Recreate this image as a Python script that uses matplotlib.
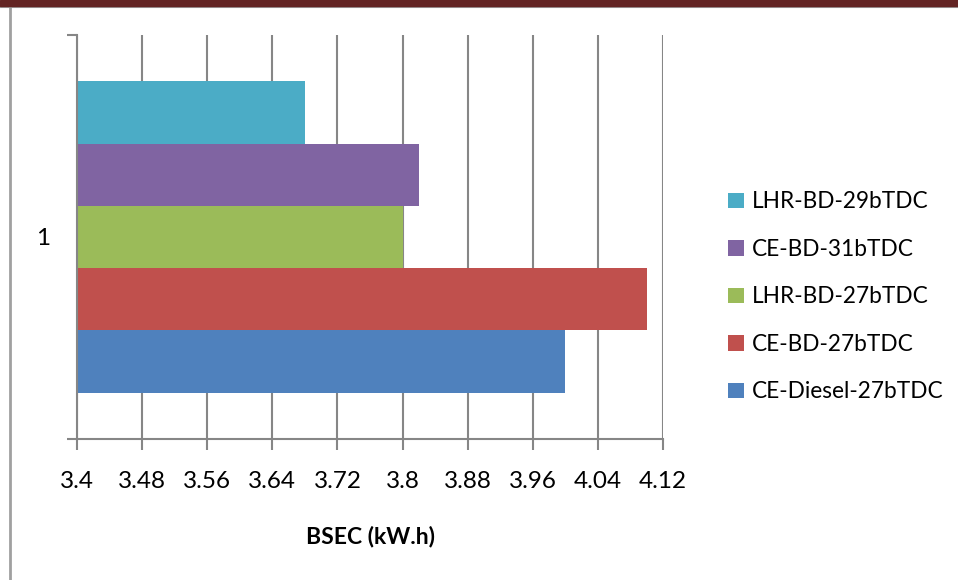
import numpy as np
import matplotlib.pyplot as plt
from matplotlib.lines import Line2D
from matplotlib.patches import Rectangle

plt.rcParams['font.family'] = ['Lato', 'DejaVu Sans']

category = ["1"]
series = ["CE-Diesel-27bTDC", "CE-BD-27bTDC", "LHR-BD-27bTDC", "CE-BD-31bTDC", "LHR-BD-29bTDC"]
bsec = [4.00, 4.10, 3.80, 3.82, 3.68]
colors = ["#4f81bd", "#c0504d", "#9bbb59", "#8064a2", "#4bacc6"]
xticks = [3.4, 3.48, 3.56, 3.64, 3.72, 3.8, 3.88, 3.96, 4.04, 4.12]

grey = "#868686"

fig = plt.figure(figsize=(9.58, 5.80), dpi=100)
ax = fig.add_axes([0.0804, 0.2431, 0.6117, 0.6966])

# first series sits at the bottom of the group
bar_h = 0.154
n = len(series)
for i, (name, val, col) in enumerate(zip(series, bsec, colors)):
    offset = (i - (n - 1) / 2) * bar_h
    ax.barh(0 + offset, val, height=bar_h, color=col, label=name, zorder=2)

ax.set_xlim(3.4, 4.12)
ax.set_ylim(-0.5, 0.5)
ax.set_xticks(xticks)
ax.set_xticklabels([f"{t:g}" for t in xticks], fontsize=17.5)
ax.set_yticks([0])
ax.set_yticklabels(category, fontsize=17.5)
ax.set_yticks([-0.5, 0.5], minor=True)
ax.tick_params(axis='y', which='major', length=0, pad=19)
ax.tick_params(axis='y', which='minor', length=7, width=1.5, color=grey, direction='out')
ax.tick_params(axis='x', length=8, width=1.5, color=grey, direction='out', pad=15)

ax.grid(axis='x', color=grey, linewidth=1.5, zorder=0)
ax.set_axisbelow(True)
for side in ['top', 'right']:
    ax.spines[side].set_visible(False)
for side in ['left', 'bottom']:
    ax.spines[side].set_color(grey)
    ax.spines[side].set_linewidth(1.5)

ax.set_xlabel("BSEC (kW.h)", fontsize=16.5, fontweight='bold', labelpad=24)

handles, labels = ax.get_legend_handles_labels()
leg = fig.legend(handles[::-1], labels[::-1], loc='center left',
                 bbox_to_anchor=(0.739, 0.488), frameon=False, fontsize=16.3,
                 handlelength=0.7, handleheight=0.7, handletextpad=0.35,
                 labelspacing=1.17)

# page frame around the chart
fig.add_artist(Rectangle((0, 0.99), 1, 0.01, transform=fig.transFigure,
                         color="#632423", zorder=5))
fig.add_artist(Line2D([0, 1], [0.988, 0.988], transform=fig.transFigure,
                      color="#a0a0a0", linewidth=1.5))
fig.add_artist(Line2D([0.0100, 0.0100], [0, 0.988], transform=fig.transFigure,
                      color="#a0a0a0", linewidth=2))

fig.savefig("out.png", dpi=100)
